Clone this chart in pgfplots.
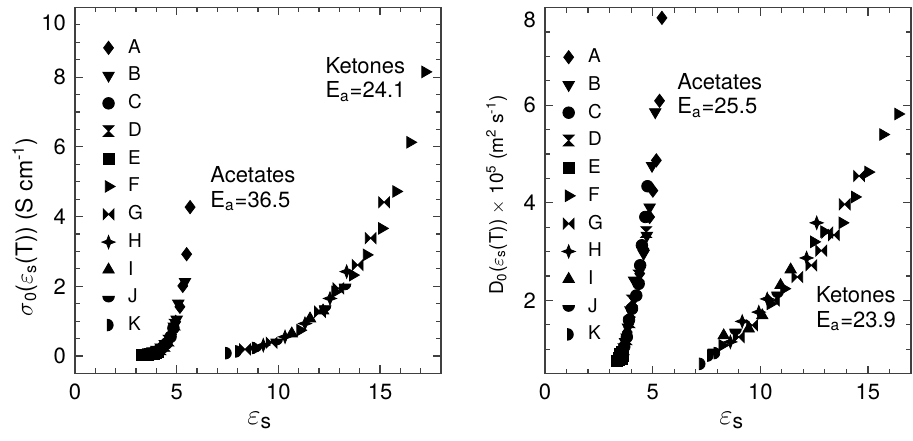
\documentclass[border=0pt]{standalone}
\usepackage{fontspec}
\setmainfont{TeX Gyre Heros}
\usepackage{pgfplots}
\pgfplotsset{compat=1.18}

% extra marker shapes
\pgfdeclareplotmark{hourglass}{%
  \pgfpathmoveto{\pgfqpoint{-\pgfplotmarksize}{\pgfplotmarksize}}%
  \pgfpathlineto{\pgfqpoint{\pgfplotmarksize}{\pgfplotmarksize}}%
  \pgfpathlineto{\pgfqpoint{0pt}{0pt}}%
  \pgfpathclose
  \pgfpathmoveto{\pgfqpoint{-\pgfplotmarksize}{-\pgfplotmarksize}}%
  \pgfpathlineto{\pgfqpoint{\pgfplotmarksize}{-\pgfplotmarksize}}%
  \pgfpathlineto{\pgfqpoint{0pt}{0pt}}%
  \pgfpathclose
  \pgfusepathqfillstroke}
\pgfdeclareplotmark{bowtie}{%
  \pgfpathmoveto{\pgfqpoint{-\pgfplotmarksize}{\pgfplotmarksize}}%
  \pgfpathlineto{\pgfqpoint{-\pgfplotmarksize}{-\pgfplotmarksize}}%
  \pgfpathlineto{\pgfqpoint{0pt}{0pt}}%
  \pgfpathclose
  \pgfpathmoveto{\pgfqpoint{\pgfplotmarksize}{\pgfplotmarksize}}%
  \pgfpathlineto{\pgfqpoint{\pgfplotmarksize}{-\pgfplotmarksize}}%
  \pgfpathlineto{\pgfqpoint{0pt}{0pt}}%
  \pgfpathclose
  \pgfusepathqfillstroke}
\pgfdeclareplotmark{star4}{%
  \pgfpathmoveto{\pgfqpoint{0pt}{\pgfplotmarksize}}%
  \pgfpathlineto{\pgfqpoint{0.28\pgfplotmarksize}{0.28\pgfplotmarksize}}%
  \pgfpathlineto{\pgfqpoint{\pgfplotmarksize}{0pt}}%
  \pgfpathlineto{\pgfqpoint{0.28\pgfplotmarksize}{-0.28\pgfplotmarksize}}%
  \pgfpathlineto{\pgfqpoint{0pt}{-\pgfplotmarksize}}%
  \pgfpathlineto{\pgfqpoint{-0.28\pgfplotmarksize}{-0.28\pgfplotmarksize}}%
  \pgfpathlineto{\pgfqpoint{-\pgfplotmarksize}{0pt}}%
  \pgfpathlineto{\pgfqpoint{-0.28\pgfplotmarksize}{0.28\pgfplotmarksize}}%
  \pgfpathclose
  \pgfusepathqfillstroke}
\pgfdeclareplotmark{halfdown}{%
  \pgfpathmoveto{\pgfqpoint{-\pgfplotmarksize}{0.2\pgfplotmarksize}}%
  \pgfpatharc{180}{360}{\pgfplotmarksize}%
  \pgfpathclose
  \pgfusepathqfillstroke}
\pgfdeclareplotmark{halfright}{%
  \pgfpathmoveto{\pgfqpoint{-0.2\pgfplotmarksize}{\pgfplotmarksize}}%
  \pgfpatharc{90}{-90}{\pgfplotmarksize}%
  \pgfpathclose
  \pgfusepathqfillstroke}

\pgfplotsset{
  panel/.style={
    scale only axis, width=183pt, height=183pt,
    axis line style={black!75, line width=0.6pt},
    every tick/.style={black!75, line width=0.6pt},
    tick align=inside,
    major tick length=4pt, minor tick length=2.5pt,
    xtick={0,5,10,15},
    tick label style={font=\fontsize{11}{13}\selectfont},
    x tick label style={yshift=-1.8pt},
    y tick label style={xshift=-1.1pt},
    /pgf/number format/assume math mode=true,
    xlabel={\fontsize{15}{17}\selectfont$\varepsilon$\textsubscript{s}},
    clip=false,
    legend style={draw=none, fill=none, anchor=north west,
      font=\fontsize{9.5}{10.5}\selectfont, row sep=3.4pt,
      nodes={inner sep=1pt}},
    legend cell align=left,
    legend image code/.code={%
      \path (0cm,0cm) (0.5cm,0cm);
      \draw[#1, only marks] plot coordinates {(0.2cm,0cm)};},
  },
  sA/.style={only marks, black, mark=diamond*, mark size=3.3pt, mark options={fill=black}},
  sB/.style={only marks, black, mark=triangle*, mark size=3.3pt, mark options={fill=black, rotate=180}},
  sC/.style={only marks, black, mark=*, mark size=2.9pt, mark options={fill=black}},
  sD/.style={only marks, black, mark=hourglass, mark size=2.7pt, mark options={fill=black}},
  sE/.style={only marks, black, mark=square*, mark size=2.75pt, mark options={fill=black}},
  sF/.style={only marks, black, mark=triangle*, mark size=3.3pt, mark options={fill=black, rotate=-90}},
  sG/.style={only marks, black, mark=bowtie, mark size=2.7pt, mark options={fill=black}},
  sH/.style={only marks, black, mark=star4, mark size=3.3pt, mark options={fill=black}},
  sI/.style={only marks, black, mark=triangle*, mark size=3.3pt, mark options={fill=black}},
  sJ/.style={only marks, black, mark=halfdown, mark size=2.9pt, mark options={fill=black}},
  sK/.style={only marks, black, mark=halfright, mark size=2.9pt, mark options={fill=black}},
}

\begin{document}
\begin{tikzpicture}
\useasboundingbox (0,0) rectangle (456.5pt,220pt);

% ---------------- left: conductivity ----------------
\begin{axis}[panel, at={(37.5pt,33.3pt)}, anchor=south west,
  xmin=0, xmax=18, ymin=-0.5, ymax=10,
  minor xtick={0,1,...,18},
  ytick={0,2,4,6,8,10}, yticklabels={0,2,4,6,8,{}},
  minor ytick={-0.5,0,...,10},
  extra y ticks={9.56}, extra y tick labels={10},
  extra y tick style={major tick length=0pt},
  ylabel={$\sigma$\textsubscript{0}($\varepsilon$\textsubscript{s}(T)) (S cm\textsuperscript{-1})},
  ylabel style={at={(axis description cs:-0.137,0.40)}, anchor=center,
    font=\fontsize{11.5}{13}\selectfont},
  xlabel style={at={(axis description cs:0.505,-0.128)}, anchor=center},
  legend style={at={(axis description cs:0.042,0.93)}},
]
\addplot[sA] coordinates {(5.66,4.27) (5.49,2.92) (5.30,2.01) (5.16,1.41) (4.95,0.98)
  (4.75,0.62) (4.55,0.40) (4.35,0.26) (4.15,0.17) (3.95,0.11)};
\addplot[sB] coordinates {(5.41,2.13) (5.08,1.51) (5.00,1.05) (4.86,0.85) (4.65,0.49)
  (4.45,0.32) (4.25,0.21) (4.05,0.14) (3.85,0.09)};
\addplot[sC] coordinates {(4.84,0.80) (4.70,0.55) (4.50,0.36) (4.30,0.24) (4.10,0.15)
  (3.90,0.10) (3.70,0.06)};
\addplot[sD] coordinates {(4.90,0.90) (4.60,0.44) (4.40,0.29) (4.20,0.19) (4.00,0.12)
  (3.80,0.08) (3.60,0.05)};
\addplot[sE] coordinates {(3.30,0.03) (3.40,0.03) (3.50,0.04) (3.60,0.04) (3.70,0.05)
  (3.80,0.06) (3.90,0.07) (4.00,0.09) (4.10,0.11)};
\addplot[sF] coordinates {(17.22,8.15) (16.48,6.13) (15.79,4.72) (15.09,3.66) (14.34,2.90)
  (13.66,2.32) (12.79,1.84) (11.07,0.74)};
\addplot[sG] coordinates {(15.20,4.41) (14.54,3.38) (13.90,2.61) (12.95,1.94) (12.05,1.27)
  (9.67,0.38) (8.36,0.19)};
\addplot[sH] coordinates {(13.36,2.42) (12.54,1.65) (11.31,0.93) (10.33,0.55) (9.26,0.31)};
\addplot[sI] coordinates {(11.56,1.07) (10.66,0.64) (12.20,1.30)};
\addplot[sJ] coordinates {(13.28,2.03) (12.30,1.41) (9.92,0.45) (8.90,0.25)};
\addplot[sK] coordinates {(7.46,0.08) (7.95,0.13) (8.77,0.23)};
\legend{A,B,C,D,E,F,G,H,I,J,K}
\node[anchor=north west, align=left, inner sep=0pt, font=\fontsize{11}{12.2}\selectfont]
  at (axis cs:12.3,8.58) {Ketones\\E\textsubscript{a}=24.1};
\node[anchor=north west, align=left, inner sep=0pt, font=\fontsize{11}{12.2}\selectfont]
  at (axis cs:6.64,5.44) {Acetates\\E\textsubscript{a}=36.5};
\end{axis}

% ---------------- right: diffusion ----------------
\begin{axis}[panel, at={(272.5pt,33.2pt)}, anchor=south west,
  xmin=0, xmax=17, ymin=0.5, ymax=8,
  minor xtick={0,1,...,17},
  ytick={2,4,6,8}, yticklabels={2,4,6,{}},
  minor ytick={0.5,1,...,8},
  extra y ticks={7.75}, extra y tick labels={8},
  extra y tick style={major tick length=0pt},
  ylabel={D\textsubscript{0}($\varepsilon$\textsubscript{s}(T)) $\times$ 10\textsuperscript{5} (m\textsuperscript{2} s\textsuperscript{-1})},
  ylabel style={at={(axis description cs:-0.132,0.488)}, anchor=center,
    font=\fontsize{9.5}{11}\selectfont},
  xlabel style={at={(axis description cs:0.51,-0.128)}, anchor=center},
  legend style={at={(axis description cs:0.015,0.905)}},
]
\addplot[sA] coordinates {(5.43,7.79) (5.32,6.09) (5.17,4.87) (5.01,4.25) (4.86,3.71)
  (4.60,3.05) (4.40,2.55) (4.15,2.05) (3.95,1.65) (3.82,1.35) (3.70,1.10)};
\addplot[sB] coordinates {(5.12,5.86) (4.97,4.76) (4.86,3.91) (4.73,3.33) (4.58,2.96)
  (4.14,2.41) (3.97,1.80) (3.85,1.45) (3.72,1.15) (3.60,0.95)};
\addplot[sC] coordinates {(4.76,4.34) (4.66,3.71) (4.50,3.13) (4.42,2.72) (4.35,2.34)
  (4.24,2.10) (4.04,1.83) (3.90,1.60) (3.80,1.25) (3.68,1.05)};
\addplot[sD] coordinates {(4.70,3.40) (4.35,2.51) (4.04,2.00) (3.92,1.55) (3.78,1.20)
  (3.65,1.00)};
\addplot[sE] coordinates {(3.35,0.76) (3.45,0.78) (3.55,0.80) (3.62,0.86) (3.50,0.90)
  (3.58,0.95) (3.42,0.82)};
\addplot[sF] coordinates {(16.40,5.82) (15.70,5.40) (15.01,4.63) (14.39,4.12) (13.81,3.59)
  (12.96,3.41) (12.49,3.20) (11.10,2.24) (10.47,1.93) (8.23,1.08)};
\addplot[sG] coordinates {(14.59,4.55) (13.92,3.97) (13.11,3.39) (13.42,3.34) (12.83,3.02)
  (12.37,2.72) (11.72,2.48) (10.63,2.00) (9.62,1.49) (9.00,1.25)};
\addplot[sH] coordinates {(12.62,3.59) (12.15,2.87) (10.32,2.03) (9.93,1.76) (9.16,1.57)
  (8.61,1.15)};
\addplot[sI] coordinates {(11.41,2.63) (10.94,2.31) (10.09,1.69) (9.46,1.42) (8.30,1.28)};
\addplot[sJ] coordinates {(8.85,1.39) (7.84,0.98) (10.80,2.15)};
\addplot[sK] coordinates {(7.22,0.70) (7.60,0.87) (7.90,0.92)};
\legend{A,B,C,D,E,F,G,H,I,J,K}
\node[anchor=north west, align=left, inner sep=0pt, font=\fontsize{11}{12.2}\selectfont]
  at (axis cs:6.13,6.66) {Acetates\\E\textsubscript{a}=25.5};
\node[anchor=north west, align=left, inner sep=0pt, font=\fontsize{11}{12.2}\selectfont]
  at (axis cs:12.57,2.29) {Ketones\\E\textsubscript{a}=23.9};
\end{axis}
\end{tikzpicture}
\end{document}
